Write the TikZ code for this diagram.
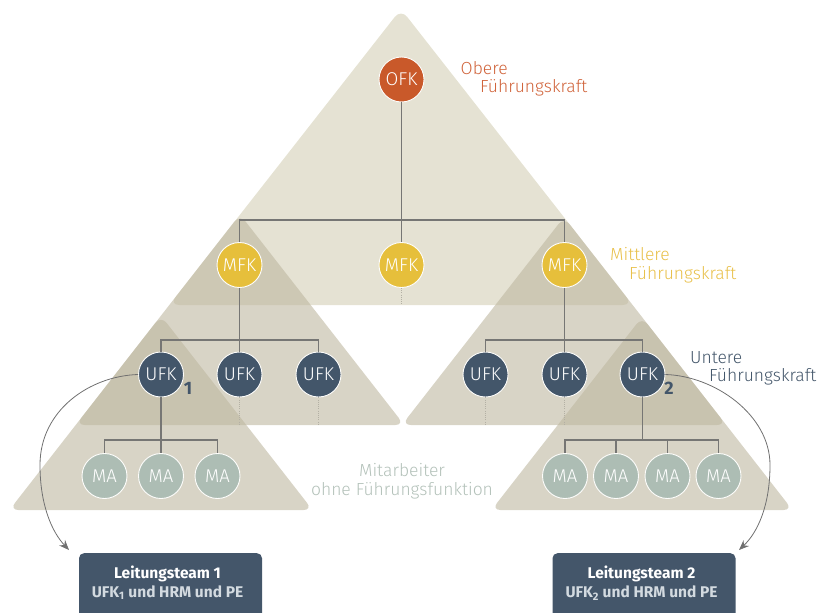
\documentclass[tikz,border=0pt]{standalone}
\usepackage{fontspec}
\setmainfont{Fira Sans}
\newfontfamily\lightfont{Fira Sans Light}
\usetikzlibrary{arrows.meta,calc}
\definecolor{bigC}{HTML}{E5E2D3}
\definecolor{triC}{HTML}{BEB7A0}
\definecolor{cOFK}{HTML}{C9592A}
\definecolor{cOFKt}{HTML}{D0633A}
\definecolor{cMFK}{HTML}{E6BF3B}
\definecolor{cMFKt}{HTML}{E8C04A}
\definecolor{cUFK}{HTML}{43566A}
\definecolor{cMA}{HTML}{ADBDB4}
\definecolor{cMAt}{HTML}{B3C1B9}
\definecolor{lineC}{HTML}{767674}
\definecolor{dotC}{HTML}{B3B0A4}
\definecolor{arrC}{HTML}{707070}
\definecolor{boxC}{HTML}{44566A}
\definecolor{boxT}{HTML}{D3DAE0}
\begin{document}
\begin{tikzpicture}[x=1pt,y=-1pt,
  tri/.style={fill=triC, fill opacity=0.6, rounded corners=9pt},
  bigtri/.style={fill=bigC, rounded corners=10pt},
  circ/.style={circle, minimum size=45pt, inner sep=0pt, draw=white!92!bigC, line width=0.9pt,
    text=white, font=\lightfont\fontsize{18.5}{18.5}\selectfont},
  ofkn/.style={circ, fill=cOFK},
  mfkn/.style={circ, fill=cMFK},
  ufkn/.style={circ, fill=cUFK},
  man/.style={circ, fill=cMA},
  conn/.style={draw=lineC, line width=1.2pt},
  dotc/.style={draw=dotC, line width=0.7pt, dash pattern=on 1pt off 1.2pt},
  arr/.style={draw=arrC, line width=0.8pt, -{Stealth[length=10pt,width=8pt]}},
  lbl/.style={anchor=base west, inner sep=0pt, font=\lightfont\fontsize{17.5}{17.5}\selectfont},
  sublbl/.style={inner sep=0pt, text=cUFK, font=\fontsize{18}{18}\selectfont\bfseries},
  ltbox/.style={fill=boxC, rounded corners=5pt, minimum width=183pt, minimum height=75pt, anchor=north, inner sep=0pt},
  lttext/.style={align=center, inner sep=0pt, font=\fontsize{15.5}{19}\selectfont\bfseries}
]
\useasboundingbox (0,0) rectangle (825,613);

% background triangles
\path[bigtri] (401,9) -- (632.7,305) -- (169.3,305) -- cycle;
\path[tri] (240,214.4) -- (404.3,425) -- (75.7,425) -- cycle;
\path[tri] (564,217) -- (726.2,425) -- (401.8,425) -- cycle;
\path[tri] (161,315.7) -- (312.6,510) -- (9.4,510) -- cycle;
\path[tri] (642,317) -- (792.5,510) -- (491.5,510) -- cycle;

% helper coordinates
\coordinate (bar1) at (0,220);
\coordinate (bar2) at (0,340);
\coordinate (bar3) at (0,440);
\coordinate (tb1) at (0,305);
\coordinate (tb2) at (0,425);

% nodes
\node[ofkn] (ofk) at (401.5,79.5) {OFK};
\node[mfkn] (mfk1) at (239.5,265) {MFK};
\node[mfkn] (mfk2) at (401.5,265) {MFK};
\node[mfkn] (mfk3) at (564.5,265) {MFK};
\node[ufkn] (ufk1) at (161,374.5) {UFK};
\node[ufkn] (ufk2) at (239.5,374.5) {UFK};
\node[ufkn] (ufk3) at (318.5,374.5) {UFK};
\node[ufkn] (ufk4) at (485.5,374.5) {UFK};
\node[ufkn] (ufk5) at (564.5,374.5) {UFK};
\node[ufkn] (ufk6) at (642.5,374.5) {UFK};
\node[man] (ma1) at (104.5,476) {MA};
\node[man] (ma2) at (161,476) {MA};
\node[man] (ma3) at (217.5,476) {MA};
\node[man] (ma4) at (565,476) {MA};
\node[man] (ma5) at (616,476) {MA};
\node[man] (ma6) at (667.5,476) {MA};
\node[man] (ma7) at (718.5,476) {MA};

% tree connectors
\draw[conn] (ofk.south) -- (mfk2.north);
\draw[conn] (mfk1.north) |- (mfk3 |- bar1) -- (mfk3.north);
\draw[conn] (mfk1.south) -- (ufk2.north);
\draw[conn] (ufk1.north) |- (ufk3 |- bar2) -- (ufk3.north);
\draw[conn] (mfk3.south) -- (ufk5.north);
\draw[conn] (ufk4.north) |- (ufk6 |- bar2) -- (ufk6.north);
\draw[conn] (ufk1.south) -- (ma2.north);
\draw[conn] (ma1.north) |- (ma3 |- bar3) -- (ma3.north);
\draw[conn] (ufk6.south) -- (ufk6 |- bar3);
\draw[conn] (ma4.north) |- (ma7 |- bar3) -- (ma7.north);
\draw[conn] (ma5.north) -- (ma5 |- bar3);
\draw[conn] (ma6.north) -- (ma6 |- bar3);

% dotted continuations
\draw[dotc] (mfk2.south) -- (mfk2 |- tb1);
\draw[dotc] (ufk2.south) -- (ufk2 |- tb2);
\draw[dotc] (ufk3.south) -- (ufk3 |- tb2);
\draw[dotc] (ufk4.south) -- (ufk4 |- tb2);
\draw[dotc] (ufk5.south) -- (ufk5 |- tb2);

% subscripts
\node[sublbl] (s1) at (188,388.5) {1};
\node[sublbl] (s2) at (669,388.5) {2};

% level labels
\node[lbl, text=cOFKt] (l1a) at (460.5,74) {Obere};
\node[lbl, text=cOFKt] (l1b) at (480,92) {Führungskraft};
\node[lbl, text=cMFKt] (l2a) at (610,260.5) {Mittlere};
\node[lbl, text=cMFKt] (l2b) at (629,279) {Führungskraft};
\node[lbl, text=cUFK] (l3a) at (690,363.5) {Untere};
\node[lbl, text=cUFK] (l3b) at (709,381.5) {Führungskraft};
\node[inner sep=0pt, anchor=base, text=cMAt, font=\lightfont\fontsize{17.5}{17.5}\selectfont] (l4a) at (402,476) {Mitarbeiter};
\node[inner sep=0pt, anchor=base, text=cMAt, font=\lightfont\fontsize{17.5}{17.5}\selectfont] (l4b) at (402,495) {ohne Führungsfunktion};

% Leitungsteams
\node[ltbox] (lt1) at (170.5,553) {};
\node[ltbox] (lt2) at (644,553) {};
\node[lttext] (lt1t) at (167.5,583) {\textcolor{white}{Leitungsteam 1}\\\textcolor{boxT}{UFK\textsubscript{1} und HRM und PE}};
\node[lttext] (lt2t) at (641.5,583) {\textcolor{white}{Leitungsteam 2}\\\textcolor{boxT}{UFK\textsubscript{2} und HRM und PE}};

% curved arrows
\coordinate (e1) at (69,550);
\coordinate (e2) at (739,550);
\draw[arr] (ufk1.west) .. controls (90,376) and (40,410) .. (40,465) .. controls (40,505) and (52,532) .. (e1);
\draw[arr] (ufk6.east) .. controls (715,376) and (770,415) .. (770,465) .. controls (770,505) and (758,532) .. (e2);
\end{tikzpicture}
\end{document}
